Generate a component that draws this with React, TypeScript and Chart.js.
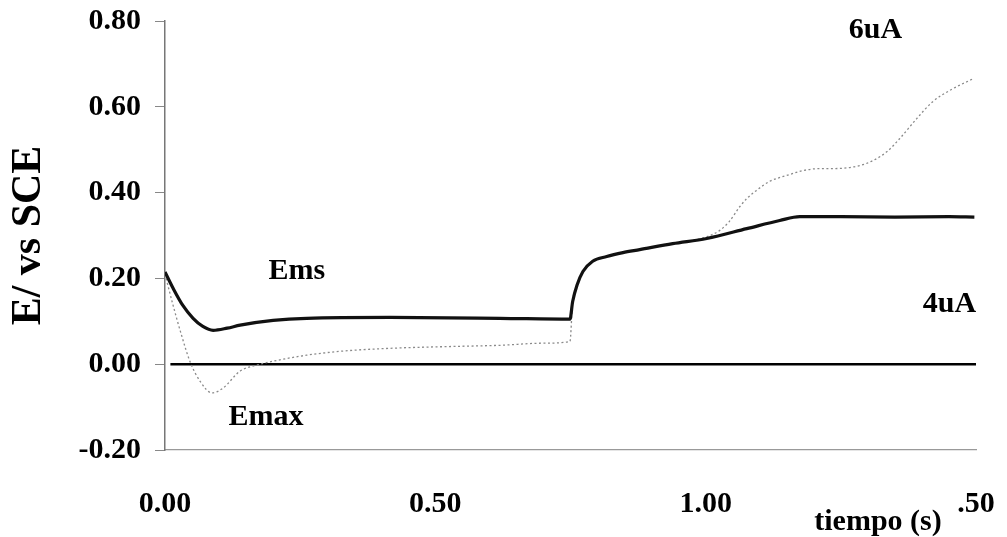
import React, { useEffect, useRef } from "react";
import { Chart, registerables } from "chart.js";

Chart.register(...registerables);

// Time axis (s) and measured potentials (V vs SCE)
const emsTime = [0, 0.015, 0.033, 0.052, 0.07, 0.089, 0.115, 0.139, 0.2, 0.262, 0.416, 0.619, 0.749, 0.754, 0.762, 0.773, 0.791, 0.817, 0.847, 0.878, 0.939, 1.002, 1.076, 1.137, 1.174, 1.25, 1.35, 1.45, 1.497];
const emsValues = [0.215, 0.177, 0.137, 0.107, 0.088, 0.079, 0.084, 0.091, 0.102, 0.107, 0.109, 0.107, 0.105, 0.146, 0.184, 0.216, 0.24, 0.251, 0.26, 0.267, 0.281, 0.293, 0.316, 0.335, 0.344, 0.344, 0.343, 0.344, 0.343];

const emaxTime = [0, 0.015, 0.03, 0.046, 0.065, 0.087, 0.107, 0.139, 0.17, 0.2, 0.262, 0.323, 0.416, 0.52, 0.619, 0.7, 0.749, 0.754, 0.762, 0.773, 0.791, 0.817, 0.847, 0.878, 0.939, 0.98, 1.002, 1.026, 1.044, 1.063, 1.076, 1.094, 1.118, 1.15, 1.179, 1.211, 1.235, 1.285, 1.31, 1.335, 1.359, 1.39, 1.42, 1.457, 1.494];
const emaxValues = [0.21, 0.137, 0.07, 0.007, -0.04, -0.067, -0.056, -0.016, -0.002, 0.007, 0.021, 0.03, 0.037, 0.041, 0.044, 0.049, 0.053, 0.146, 0.184, 0.216, 0.24, 0.251, 0.26, 0.267, 0.281, 0.29, 0.297, 0.312, 0.333, 0.367, 0.386, 0.405, 0.426, 0.44, 0.451, 0.456, 0.456, 0.463, 0.475, 0.495, 0.526, 0.572, 0.612, 0.642, 0.665];

// Zero reference line
const zeroTime = [0.01, 1.5];
const zeroValues = [0, 0];

// Axis ticks
const xTickValues = [0, 0.5, 1.0, 1.5];
const xTickLabels = ["0.00", "0.50", "1.00", ".50"];

// In-plot labels: [text, time, potential]
const curveLabels: [string, number, number][] = [
  ["Ems", 0.244, 0.216],
  ["Emax", 0.187, -0.123],
  ["6uA", 1.314, 0.778],
  ["4uA", 1.451, 0.14],
];
const xAxisTitle = "tiempo (s)";
const yAxisTitle = "E/ vs SCE";

const FONT = "'Liberation Serif', 'Times New Roman', serif";

const toPoints = (xs: number[], ys: number[]) => xs.map((x, i) => ({ x, y: ys[i] }));

const textPlugin = {
  id: "curveText",
  afterDatasetsDraw(chart: any) {
    const { ctx, scales, chartArea } = chart;
    const xs = scales.x;
    const ys = scales.y;
    ctx.save();
    ctx.fillStyle = "#000";
    ctx.font = `bold 30px ${FONT}`;
    ctx.textAlign = "center";
    ctx.textBaseline = "middle";
    curveLabels.forEach(([t, x, y]) => {
      ctx.fillText(t, xs.getPixelForValue(x), ys.getPixelForValue(y));
    });
    ctx.fillText(xAxisTitle, chartArea.right - 98, chartArea.bottom + 72);
    ctx.restore();
  },
};

export default function App() {
  const ref = useRef<HTMLCanvasElement | null>(null);

  useEffect(() => {
    if (!ref.current) return;
    const chart = new Chart(ref.current, {
      type: "line",
      data: {
        datasets: [
          {
            label: "Ems",
            data: toPoints(emsTime, emsValues),
            borderColor: "#111",
            borderWidth: 3.2,
            pointRadius: 0,
            cubicInterpolationMode: "monotone",
          },
          {
            label: "Emax",
            data: toPoints(emaxTime, emaxValues),
            borderColor: "#8a8a8a",
            borderWidth: 1.3,
            borderDash: [2, 2.5],
            pointRadius: 0,
            cubicInterpolationMode: "monotone",
          },
          {
            label: "0",
            data: toPoints(zeroTime, zeroValues),
            borderColor: "#000",
            borderWidth: 2.5,
            pointRadius: 0,
          },
        ],
      },
      options: {
        animation: false,
        responsive: true,
        maintainAspectRatio: false,
        layout: { padding: { top: 21, right: 31, left: 0, bottom: 0 } },
        plugins: { legend: { display: false }, tooltip: { enabled: false } },
        scales: {
          x: {
            type: "linear",
            min: 0,
            max: 1.5,
            grid: { display: false },
            border: { display: true, color: "#999", width: 1.2, dash: [6, 2] },
            afterBuildTicks: (s: any) => {
              s.ticks = xTickValues.map((v) => ({ value: v }));
            },
            afterFit: (s: any) => {
              s.height = 87;
              s.paddingLeft = 0;
              s.paddingRight = 0;
            },
            ticks: {
              color: "#000",
              font: { family: FONT, size: 30, weight: "bold" },
              padding: 28,
              maxRotation: 0,
              callback: (_v: any, i: number) => xTickLabels[i],
            },
          },
          y: {
            min: -0.2,
            max: 0.8,
            afterFit: (s: any) => {
              s.width = 165;
              s.paddingTop = 0;
              s.paddingBottom = 0;
            },
            grid: { drawOnChartArea: false, drawTicks: true, tickLength: 10, color: "#888" },
            border: { color: "#777", width: 1.5 },
            ticks: {
              stepSize: 0.2,
              color: "#000",
              padding: 14,
              font: { family: FONT, size: 30, weight: "bold" },
              callback: (v: any) => Number(v).toFixed(2),
            },
            title: {
              display: true,
              text: yAxisTitle,
              color: "#000",
              font: { family: FONT, size: 42, weight: "bold" },
              padding: { top: 4, bottom: 0 },
            },
          },
        },
      },
      plugins: [textPlugin],
    });
    return () => chart.destroy();
  }, []);

  return (
    <div style={{ position: "fixed", left: 0, top: 0, width: 1007, height: 537, background: "#fff" }}>
      <canvas ref={ref} />
    </div>
  );
}
